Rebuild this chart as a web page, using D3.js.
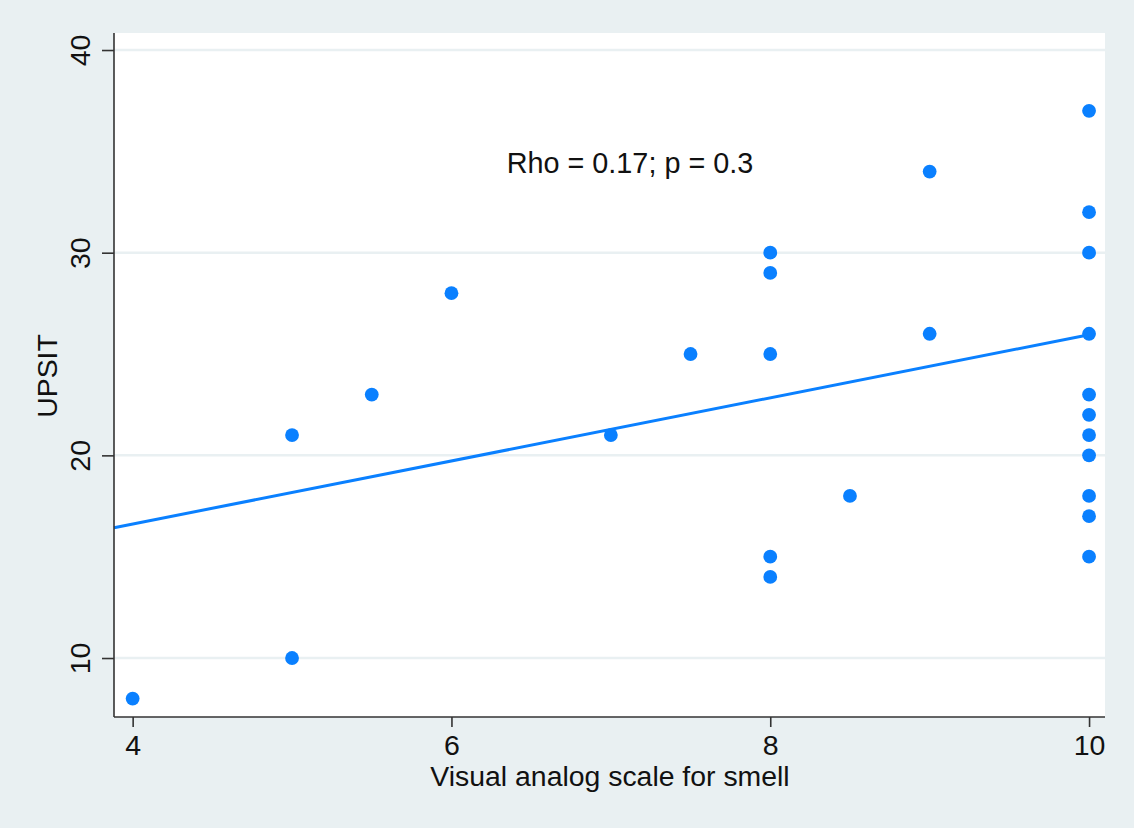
<!DOCTYPE html>
<html>
<head>
<meta charset="utf-8">
<script src="https://cdn.jsdelivr.net/npm/d3@7"></script>
<style>
  html, body { margin: 0; padding: 0; background: #e9f0f2; }
  svg { display: block; }
  text { font-family: "Liberation Sans", Arial, sans-serif; fill: #111; }
</style>
</head>
<body>
<svg id="chart" width="1134" height="828"></svg>
<script>
// ---- data ----
const vas   = [4, 5, 5, 5.5, 6, 7, 7.5, 8, 8, 8, 8, 8, 8.5, 9, 9, 10, 10, 10, 10, 10, 10, 10, 10, 10, 10, 10];
const upsit = [8, 10, 21, 23, 28, 21, 25, 30, 29, 25, 15, 14, 18, 34, 26, 37, 32, 30, 26, 23, 22, 21, 20, 18, 17, 15];
const fitX = [3.883, 10];
const fitY = [16.43, 25.95];
const xTicks = [4, 6, 8, 10];
const yTicks = [10, 20, 30, 40];
const xTitle = "Visual analog scale for smell";
const yTitle = "UPSIT";
const annotation = "Rho = 0.17; p = 0.3";
const annX = 7.12, annY = 34.45;

// ---- layout ----
const W = 1134, H = 828;
const plot = { left: 114, right: 1105, top: 33, bottom: 717 };
const svg = d3.select("#chart");
const blue = "#0a80ff";

svg.append("rect").attr("width", W).attr("height", H).attr("fill", "#e9f0f2");
svg.append("rect")
  .attr("x", plot.left).attr("y", plot.top)
  .attr("width", plot.right - plot.left).attr("height", plot.bottom - plot.top)
  .attr("fill", "#ffffff");

const x = d3.scaleLinear().domain([3.883, 10.1]).range([plot.left, plot.right]);
const y = d3.scaleLinear().domain([7.09, 40.84]).range([plot.bottom, plot.top]);

// gridlines
svg.append("g").selectAll("line").data(yTicks).join("line")
  .attr("x1", plot.left).attr("x2", plot.right)
  .attr("y1", d => y(d)).attr("y2", d => y(d))
  .attr("stroke", "#e9f0f2").attr("stroke-width", 2.5);

// fit line
svg.append("line")
  .attr("x1", x(fitX[0])).attr("y1", y(fitY[0]))
  .attr("x2", x(fitX[1])).attr("y2", y(fitY[1]))
  .attr("stroke", blue).attr("stroke-width", 3);

// points
svg.append("g").selectAll("circle").data(vas.map((v, i) => [v, upsit[i]])).join("circle")
  .attr("cx", d => x(d[0])).attr("cy", d => y(d[1]))
  .attr("r", 6.9).attr("fill", blue);

// axes
const xAxis = d3.axisBottom(x).tickValues(xTicks).tickSize(10).tickPadding(8).tickFormat(d3.format("d"));
const gx = svg.append("g").attr("transform", `translate(0,${plot.bottom})`).call(xAxis);
gx.select(".domain").attr("stroke", "#333").attr("stroke-width", 1.6).attr("d", `M${plot.left},0H${plot.right}`);
gx.selectAll(".tick line").attr("stroke", "#333").attr("stroke-width", 1.6);
gx.selectAll(".tick text").attr("font-size", 28.5).attr("fill", "#111")
  .attr("font-family", "Liberation Sans, Arial, sans-serif");

const yAxis = d3.axisLeft(y).tickValues(yTicks).tickSize(12).tickPadding(0).tickFormat(d3.format("d"));
const gy = svg.append("g").attr("transform", `translate(${plot.left},0)`).call(yAxis);
gy.select(".domain").attr("stroke", "#333").attr("stroke-width", 1.6).attr("d", `M0,${plot.bottom}V${plot.top}`);
gy.selectAll(".tick line").attr("stroke", "#333").attr("stroke-width", 1.6);
gy.selectAll(".tick text")
  .attr("font-size", 28.5).attr("fill", "#111")
  .attr("font-family", "Liberation Sans, Arial, sans-serif")
  .attr("x", null).attr("dy", null)
  .attr("text-anchor", "middle")
  .attr("transform", "translate(-24,0) rotate(-90)");

// titles
svg.append("text").attr("x", (plot.left + plot.right) / 2 + 0.5).attr("y", 786)
  .attr("text-anchor", "middle").attr("font-size", 28.4).text(xTitle);
svg.append("text").attr("transform", `translate(57,${(plot.top + plot.bottom) / 2 + 1}) rotate(-90)`)
  .attr("text-anchor", "middle").attr("font-size", 28.4).text(yTitle);

// annotation
svg.append("text").attr("x", x(annX)).attr("y", y(annY)).attr("dy", "0.35em")
  .attr("text-anchor", "middle").attr("font-size", 28.8).text(annotation);
</script>
</body>
</html>
